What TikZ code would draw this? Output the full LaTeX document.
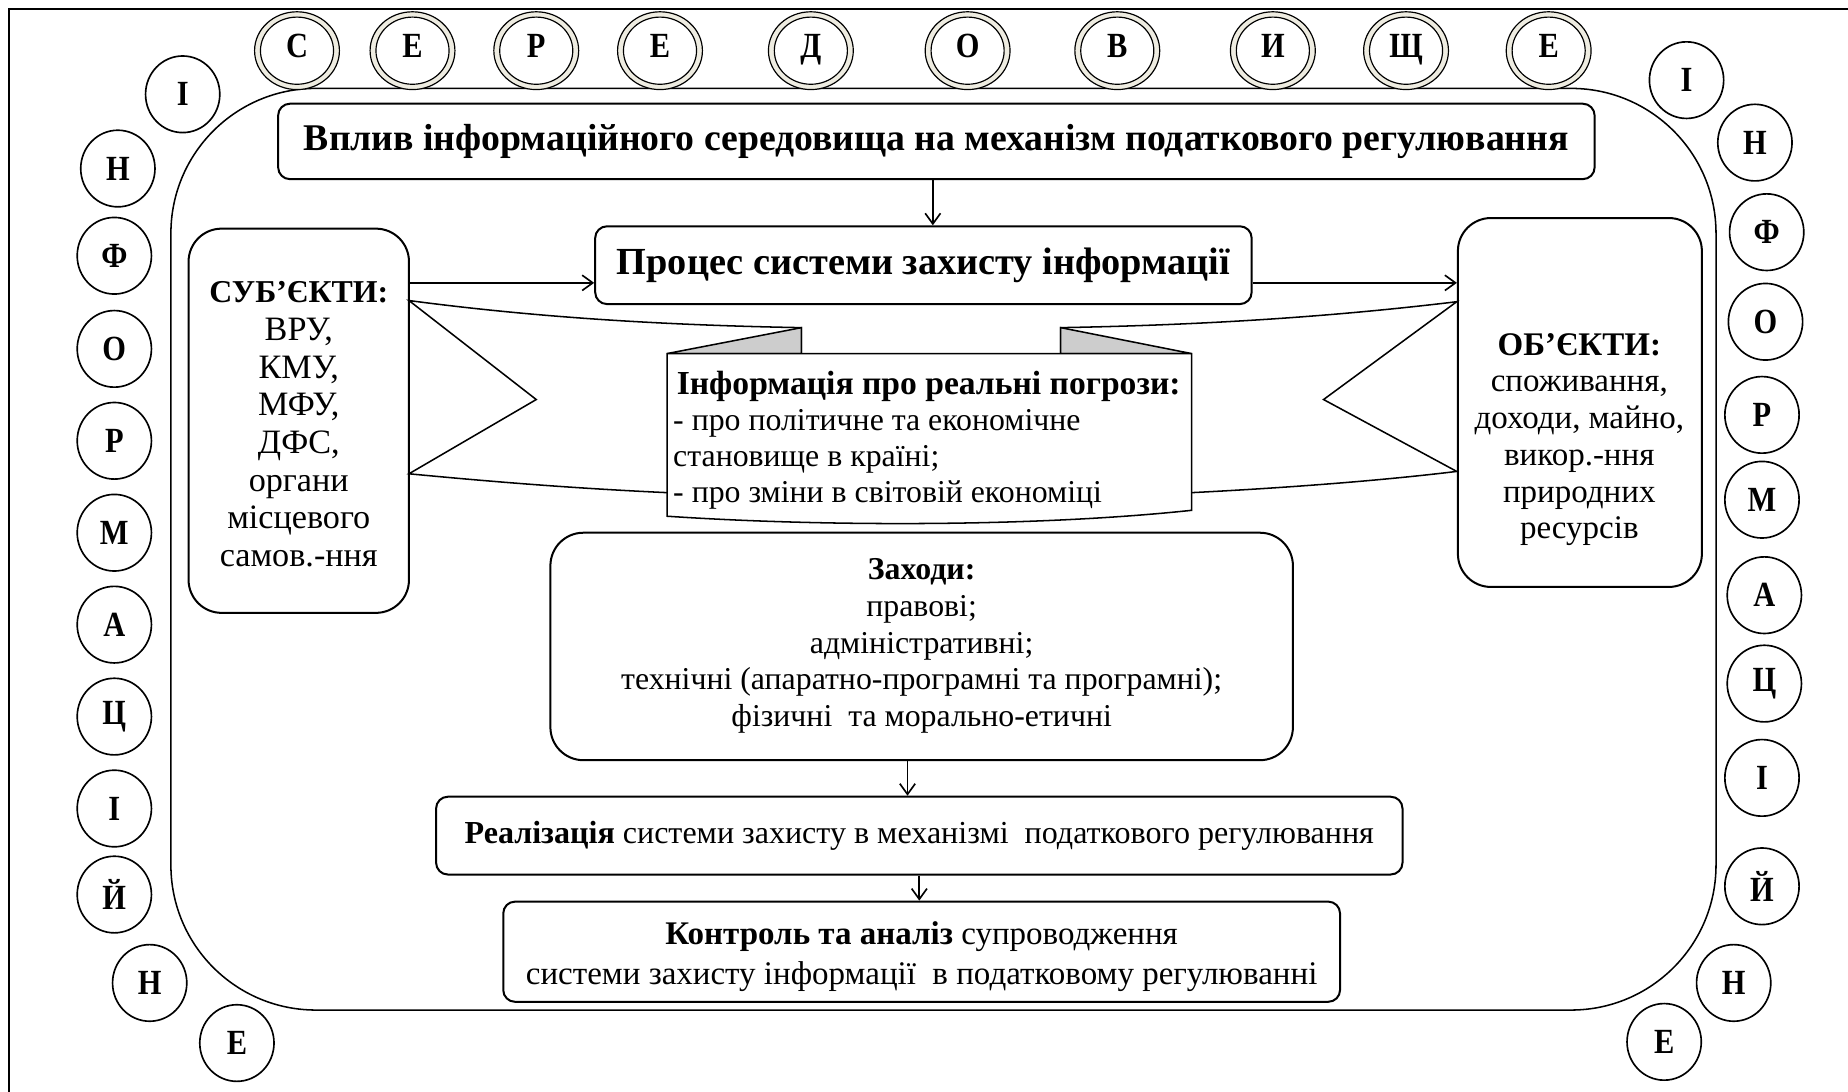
\documentclass[tikz,border=0pt]{standalone}
\usepackage{fontspec}
\setmainfont{Liberation Serif}
\newfontfamily\condfont[FakeStretch=0.86]{Liberation Serif}
\usetikzlibrary{arrows.meta,shapes.geometric}
\definecolor{ringfill}{HTML}{EEECE1}
\definecolor{foldgray}{HTML}{CDCDCD}
\newcommand\letfont{\condfont\bfseries\fontsize{30}{30}\selectfont}
\tikzset{
  box/.style={draw, line width=1.7pt, rounded corners=10pt, fill=white, inner sep=0pt, align=center},
  bigbox/.style={box, rounded corners=28pt},
  arr/.style={-{Straight Barb[length=9pt,width=13pt]}, line width=1.4pt},
  ringo/.style={ellipse, draw, line width=1pt, fill=ringfill, minimum width=72pt, minimum height=66pt, inner sep=0pt},
  ringi/.style={ellipse, draw, line width=1pt, fill=white, minimum width=62pt, minimum height=57pt, inner sep=0pt, font=\letfont},
  circ/.style={ellipse, draw, line width=1.4pt, fill=white, minimum width=63pt, minimum height=65pt, inner sep=0pt, font=\letfont},
  ribbon/.style={draw, line width=1.3pt, line join=miter},
  txt/.style={inner sep=0pt, align=center}
}
\begin{document}
\begin{tikzpicture}[x=1pt,y=-1pt]
\useasboundingbox (0,0) rectangle (1568,926);
% outer frame
\draw[line width=1.6pt] (8,930) -- (8,8) -- (1572,8);
% big rounded frame
\draw[line width=1.3pt, rounded corners=123pt] (145,75) rectangle (1456,857);
% top rings
\foreach \x/\l [count=\i] in {252/С, 350/Е, 455/Р, 560/Е, 688/Д, 821/О, 948/В, 1080/И, 1193/Щ, 1314/Е} {
  \node[ringo] (ro\i) at (\x,43) {};
  \node[ringi] (r\i) at (\x,43) {\strut\l};
}
% left column
\foreach \x/\y/\l [count=\i] in {155/80/І, 100/143/Н, 97/217/Ф, 97/296/О, 97/374/Р, 97/452/М, 97/530/А, 97/608/Ц, 97/686/І, 97/759/Й, 127/834/Н, 201/885/Е} {
  \node[circ] (L\i) at (\x,\y) {\l};
}
% right column
\foreach \x/\y/\l [count=\i] in {1431/68/І, 1489/121/Н, 1499/197/Ф, 1498/273/О, 1495/352/Р, 1495/424/М, 1497/505/А, 1497/580/Ц, 1495/660/І, 1495/752/Й, 1471/834/Н, 1412/884/Е} {
  \node[circ] (R\i) at (\x,\y) {\l};
}
% heading boxes
\node[box, minimum width=1117pt, minimum height=64pt, font=\bfseries\fontsize{32}{32}\selectfont] (vplyv) at (794.5,120) {Вплив інформаційного середовища на механізм податкового регулювання};
\node[box, minimum width=557pt, minimum height=66pt, font=\bfseries\fontsize{32.5}{32}\selectfont] (proc) at (783.5,225) {Процес системи захисту інформації};
% subjects / objects
\node[bigbox, minimum width=187pt, minimum height=326pt] (subj) at (253.5,357) {};
\node[txt, font=\fontsize{29}{32}\selectfont] (subjt) at (253.5,360) {{\fontsize{27}{32}\selectfont\bfseries СУБ’ЄКТИ:}\\ВРУ,\\КМУ,\\МФУ,\\ДФС,\\органи\\місцевого\\самов.-ння};
\node[bigbox, minimum width=207pt, minimum height=313pt] (obj) at (1340.5,341.5) {};
\node[txt, font=\fontsize{28}{31.2}\selectfont] (objt) at (1340,373) {\textbf{ОБ’ЄКТИ:}\\споживання,\\доходи, майно,\\викор.-ння\\природних\\ресурсів};
% ribbon
\draw[ribbon, fill=white] (347,255) .. controls (460,270) and (570,276) .. (680,278) -- (680,418) -- (566,418) .. controls (480,414) and (410,408) .. (347,402) -- (455,339) -- cycle;
\draw[ribbon, fill=white] (1236,256) .. controls (1120,270) and (1010,276) .. (900,278) -- (900,418) -- (1011,418) .. controls (1090,414) and (1170,408) .. (1236,400) -- (1123,339) -- cycle;
\draw[ribbon, fill=foldgray] (566,300) -- (680,278) -- (680,300) -- cycle;
\draw[ribbon, fill=foldgray] (1011,300) -- (900,278) -- (900,300) -- cycle;
\draw[ribbon, fill=white] (566,300) -- (1011,300) -- (1011,433) .. controls (880,447) and (700,447) .. (566,438) -- cycle;
\node[txt, font=\bfseries\fontsize{28.5}{30}\selectfont] (bant) at (788,328) {Інформація про реальні погрози:};
\node[txt, font=\fontsize{27}{30.5}\selectfont, align=left, anchor=north west] (banb) at (571,347) {- про політичне та економічне\\становище в країні;\\- про зміни в світовій економіці};
% measures
\node[bigbox, minimum width=630pt, minimum height=193pt] (zakh) at (782,548.5) {};
\node[txt, font=\fontsize{27}{31.2}\selectfont] (zakht) at (782,548) {\textbf{Заходи:}\\правові;\\адміністративні;\\технічні (апаратно-програмні та програмні);\\фізичні\ \ та морально-етичні};
\node[box, minimum width=820pt, minimum height=66pt, font=\fontsize{27.2}{30}\selectfont] (real) at (780,709) {\textbf{Реалізація} системи захисту в механізмі\ \ податкового регулювання};
\node[box, minimum width=710pt, minimum height=85pt] (kontr) at (782,807.5) {};
\node[txt, font=\fontsize{28}{34}\selectfont] (kontrt) at (782,812) {\textbf{Контроль та аналіз} супроводження\\системи захисту інформації\ \ в податковому регулюванні};
% arrows
\draw[arr] ([xshift=-3pt]vplyv.south) -- ([xshift=-3pt]vplyv.south |- proc.north);
\draw[arr] ([yshift=-15pt]proc.west -| subj.east) -- ([yshift=-15pt]proc.west);
\draw[arr] ([yshift=-15pt]proc.east) -- ([yshift=-15pt]proc.east -| obj.west);
\draw[arr] ([xshift=-12pt]zakh.south) -- ([xshift=-12pt]zakh.south |- real.north);
\draw[arr] (real.south) -- (real.south |- kontr.north);
\end{tikzpicture}
\end{document}
